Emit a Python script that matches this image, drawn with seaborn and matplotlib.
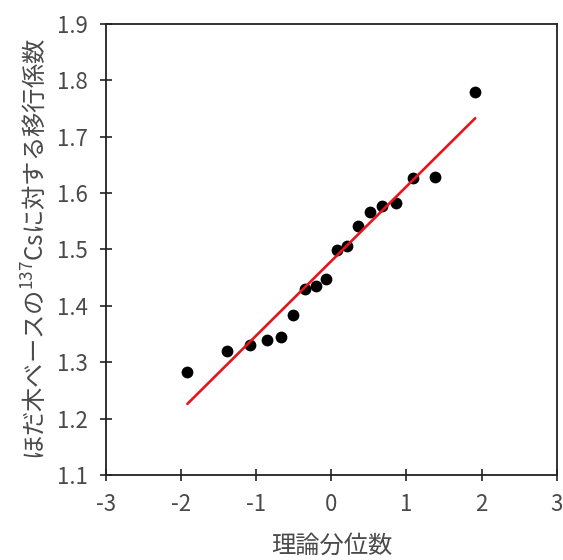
import matplotlib
matplotlib.use("Agg")
import matplotlib.pyplot as plt
import seaborn as sns
import pandas as pd

# theoretical quantiles (x) and transfer factors (y)
theoretical_q = [-1.915, -1.383, -1.085, -0.862, -0.674, -0.508, -0.355, -0.210, -0.070,
                 0.070, 0.210, 0.355, 0.508, 0.674, 0.862, 1.085, 1.383, 1.915]
transfer_factor = [1.282, 1.319, 1.331, 1.340, 1.344, 1.383, 1.430, 1.436, 1.447,
                   1.499, 1.507, 1.541, 1.567, 1.578, 1.583, 1.626, 1.628, 1.780]

# reference line end points
line_x = [-1.915, 1.915]
line_y = [1.226, 1.733]

x_ticks = [-3, -2, -1, 0, 1, 2, 3]
y_ticks = [1.1, 1.2, 1.3, 1.4, 1.5, 1.6, 1.7, 1.8, 1.9]

sns.set_theme(style="ticks")
plt.rcParams["font.family"] = ["Noto Sans CJK JP", "DejaVu Sans"]
plt.rcParams["mathtext.fontset"] = "custom"
plt.rcParams["mathtext.rm"] = "Noto Sans CJK JP"

df = pd.DataFrame({"q": theoretical_q, "tf": transfer_factor})
line_df = pd.DataFrame({"q": line_x, "tf": line_y})

fig = plt.figure(figsize=(5.63, 5.60), dpi=100)
ax = fig.add_axes([0.188, 0.152, 0.801, 0.805])

sns.scatterplot(data=df, x="q", y="tf", color="black", s=72, edgecolor="black",
                linewidth=0, ax=ax, zorder=2)
sns.lineplot(data=line_df, x="q", y="tf", color="#e8141c", linewidth=1.9, ax=ax, zorder=3)

ax.set_xlim(-3, 3)
ax.set_ylim(1.1, 1.9)
ax.set_xticks(x_ticks)
ax.set_yticks(y_ticks)
ax.set_xticklabels([str(t) for t in x_ticks])
ax.set_yticklabels([f"{t:.1f}" for t in y_ticks])

for sp in ax.spines.values():
    sp.set_visible(True)
    sp.set_color("#222222")
    sp.set_linewidth(1.3)

ax.tick_params(direction="inout", length=8, width=1.2, color="#222222",
               labelsize=16, labelcolor="#4a4a4a", pad=9)

ax.set_xlabel("理論分位数", fontsize=17.5, color="#4a4a4a", labelpad=12)
ax.set_ylabel("ほだ木ベースの$^{137}$Csに対する移行係数", fontsize=17.5,
              color="#4a4a4a", labelpad=5)

fig.savefig("out.png", dpi=100)
